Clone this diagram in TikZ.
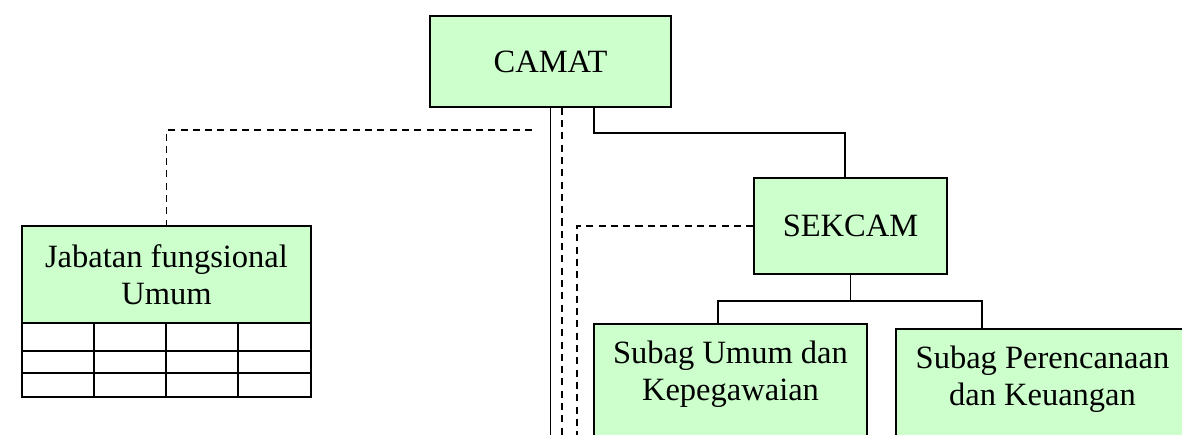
\documentclass[tikz,border=0pt]{standalone}
\usepackage{fontspec}
\setmainfont{Liberation Serif}
\usetikzlibrary{positioning,calc}
\definecolor{boxgreen}{RGB}{204,255,204}
\tikzset{
  unit/.style={draw, fill=boxgreen, align=center, line width=0.9pt, inner sep=0pt},
  subunit/.style={unit, anchor=north, text height=1.54cm, text depth=3cm},
  conn/.style={line width=0.9pt},
  dconn/.style={conn, dash pattern=on 4pt off 3pt},
}

\begin{document}
\begin{tikzpicture}[font=\fontsize{18.5}{21}\selectfont]
    \useasboundingbox (0,0) rectangle (23.64,8.7);
    \clip (0,0) rectangle (23.64,8.7);
    \node[unit, minimum width=4.82cm, minimum height=1.82cm] (camat) at (11.01,7.47) {CAMAT};
    \node[unit, minimum width=3.86cm, minimum height=1.92cm] (sekcam) at (17.01,4.18) {SEKCAM};
    \node[unit, minimum width=5.78cm, minimum height=1.94cm] (jafung) at (3.33,3.21) {Jabatan fungsional\\Umum};
    \node[subunit, minimum width=5.46cm] (umum) at (14.61,2.24) {Subag Umum dan\\Kepegawaian};
    \node[subunit, minimum width=5.86cm] (renc) at (20.85,2.14) {Subag Perencanaan\\dan Keuangan};
    \coordinate (floor) at (0,-0.3);
    \coordinate (jfturn) at (10.64,6.1);
    % table under jabatan fungsional
    \foreach \ya/\yb in {2.24/1.68, 1.68/1.24, 1.24/0.76}
      \foreach \xa/\xb in {0.44/1.88, 1.88/3.32, 3.32/4.76, 4.76/6.22}
        \draw[conn] (\xa,\ya) rectangle (\xb,\yb);
    % lines down from camat
    \draw[conn] (camat.south) -- (camat.south |- floor);
    \draw[dconn] ([xshift=0.23cm]camat.south) -- ([xshift=0.23cm]camat.south |- floor);
    \draw[conn] ([xshift=0.87cm]camat.south) -- ++(0,-0.5) -| ([xshift=-0.11cm]sekcam.north);
    \draw[dconn] (jfturn) -| (jafung.north);
    \draw[dconn] (sekcam.west) -| ([xshift=11.54cm]floor);
    % sekcam to the subag boxes
    \draw[conn] (sekcam.south) -- ++(0,-0.52) coordinate (fork);
    \draw[conn] (fork) -| ([xshift=-0.25cm]umum.north);
    \draw[conn] (fork) -| ([xshift=-1.21cm]renc.north);
  \end{tikzpicture}
\end{document}
